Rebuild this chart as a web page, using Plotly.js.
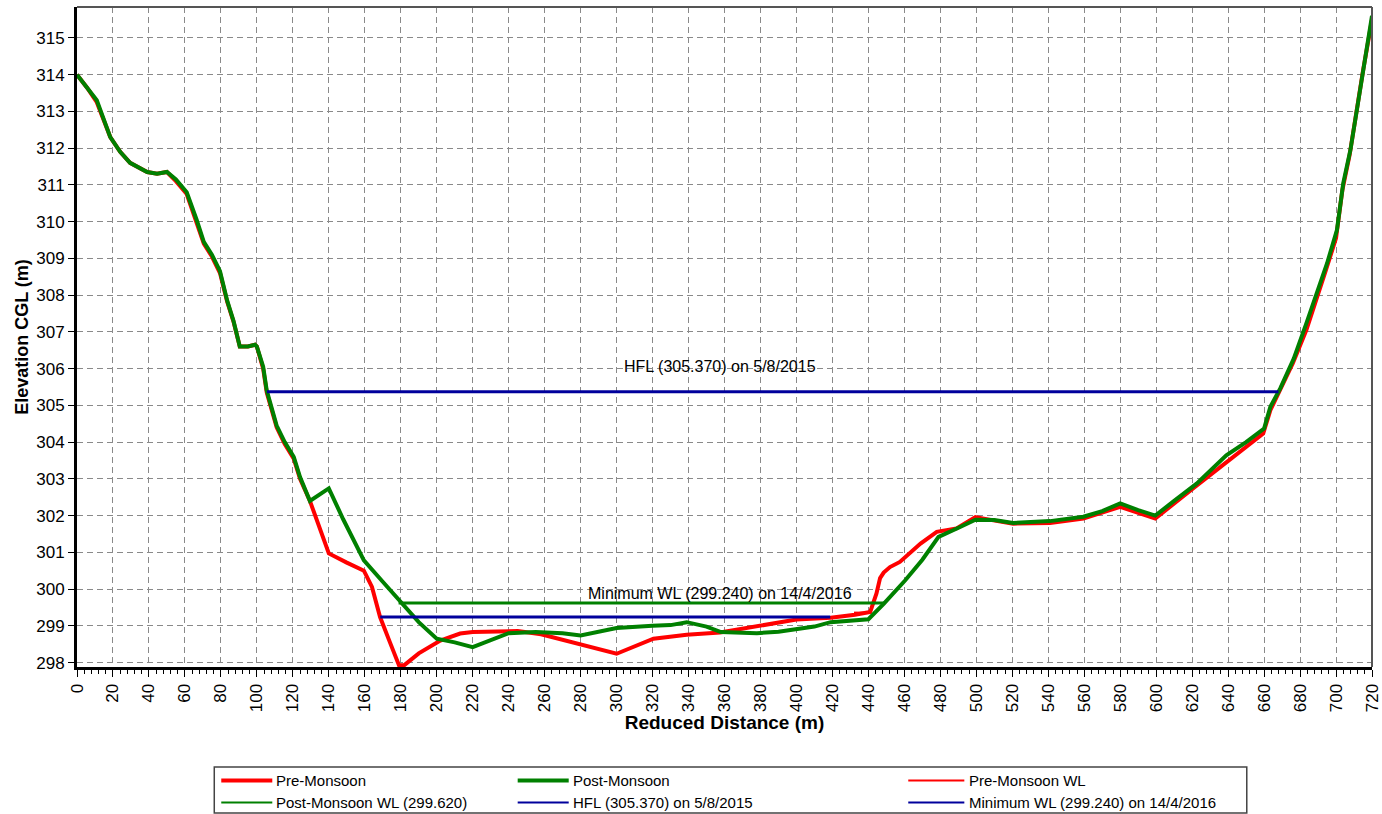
<!DOCTYPE html>
<html>
<head>
<meta charset="utf-8">
<script src="https://cdn.plot.ly/plotly-3.0.1.min.js"></script>
<style>html,body{margin:0;padding:0;background:#fff;}#chart{width:1382px;height:814px;}</style>
</head>
<body>
<div id="chart"></div>
<script>
// ---- data ----
const preX = [0,5.5,11,18.5,24,29.5,39,44.5,50,55,61,66.5,70.5,75,79.5,83.5,87,90.5,95,99,100,103.5,105.5,111,115.5,120.5,124,129.5,140,150,159.5,164,168.5,174,179,182,190,202,213,220,245,258,270,280,300,320.5,339,357.5,378,400,419,432.5,441,444.5,446.5,448.5,452,457.5,469,478,489,499.5,509.5,520.5,541,559.5,580,599.5,620.5,639,651,659.5,663.5,668,676,683.5,689,694.5,700,703.5,707.5,711,715,720];
const preY = [314.0,313.65,313.25,312.3,311.9,311.6,311.35,311.3,311.35,311.1,310.75,309.98,309.4,309.05,308.6,307.82,307.28,306.6,306.6,306.65,306.6,306.0,305.35,304.4,303.95,303.55,303.0,302.4,300.97,300.72,300.5,300.06,299.24,298.55,297.93,297.93,298.25,298.6,298.79,298.83,298.86,298.77,298.62,298.5,298.24,298.65,298.76,298.82,298.99,299.17,299.22,299.3,299.38,299.88,300.3,300.45,300.6,300.74,301.24,301.56,301.65,301.96,301.87,301.78,301.8,301.92,302.24,301.92,302.74,303.46,303.91,304.23,304.87,305.32,306.15,307.05,307.85,308.7,309.55,310.85,311.8,312.9,314.1,315.5];

const postX = [0,5.5,11,18.5,24,29.5,39,44.5,50,55,61,66.5,70.5,75,79.5,83.5,87,90.5,95,99,100,103.5,105.5,111,115.5,120.5,124,129.5,140,148,159.5,170,179,190,200,210,220,230,240,255,270,280,290,300,320,330,339,350,358,370,378,390,396.5,410,419,430,440,448.5,460.5,470,479,491,499.5,510,520.5,541,559.5,570,580,590,599.5,610,622.5,639,650,660,663.5,669,676.5,683.5,689.5,695,700.5,704,708,711.5,715.5,720];
const postY = [314.0,313.65,313.3,312.3,311.9,311.6,311.35,311.3,311.35,311.15,310.8,310.05,309.45,309.1,308.65,307.85,307.3,306.6,306.6,306.65,306.6,306.05,305.4,304.45,304.0,303.6,303.05,302.4,302.74,301.9,300.78,300.2,299.7,299.1,298.65,298.55,298.42,298.6,298.8,298.83,298.8,298.74,298.85,298.94,299.0,299.02,299.1,298.98,298.83,298.82,298.8,298.84,298.88,298.98,299.1,299.15,299.18,299.6,300.24,300.8,301.42,301.69,301.89,301.88,301.8,301.85,301.97,302.12,302.33,302.15,302.0,302.4,302.87,303.64,304.0,304.37,304.96,305.46,306.27,307.23,308.04,308.86,309.77,311.04,311.95,313.03,314.21,315.6];

const preWLX = [432, 441.5];   const preWL = 299.36;
const postWLX = [178.8, 449];  const postWL = 299.62;
const hflX = [105.6, 668];     const hfl = 305.37;
const minWLX = [168.6, 418.8]; const minWL = 299.24;

const names = ["Pre-Monsoon", "Post-Monsoon", "Pre-Monsoon WL",
               "Post-Monsoon WL (299.620)", "HFL (305.370) on 5/8/2015",
               "Minimum WL (299.240) on 14/4/2016"];
const hflLabel = "HFL (305.370) on 5/8/2015";
const minLabel = "Minimum WL (299.240) on 14/4/2016";
const labelX = 357.6;
const xTitle = "Reduced Distance (m)";
const yTitle = "Elevation CGL (m)";

// ---- styles ----
const RED = "#ff0000", GREEN = "#008000", BLUE = "#00009c";
const FONT = "Liberation Sans, Arial, sans-serif";

const traces = [
  {x: preX, y: preY, mode: "lines", name: names[0], line: {color: RED, width: 4}},
  {x: postX, y: postY, mode: "lines", name: names[1], line: {color: GREEN, width: 4}},
  {x: preWLX, y: preWLX.map(() => preWL), mode: "lines", name: names[2], line: {color: RED, width: 2}},
  {x: postWLX, y: postWLX.map(() => postWL), mode: "lines", name: names[3], line: {color: GREEN, width: 3}},
  {x: hflX, y: hflX.map(() => hfl), mode: "lines", name: names[4], line: {color: BLUE, width: 3}},
  {x: minWLX, y: minWLX.map(() => minWL), mode: "lines", name: names[5], line: {color: BLUE, width: 3}}
];

// manual legend (two rows x three columns, uneven column positions as in reference)
const legCols = [[0.1114, 0.1508, 0.1524], [0.3403, 0.3797, 0.3813], [0.6419, 0.6852, 0.6876]];
const legRows = [-0.1720, -0.2053];
const legOrder = [[0, 0], [1, 0], [2, 0], [3, 1], [4, 1], [5, 1]]; // [traceIndex, row]
const shapes = [
  {type: "line", xref: "paper", yref: "paper", x0: 0, x1: 1, y0: 1, y1: 1, line: {color: "#555", width: 2}},
  {type: "line", xref: "paper", yref: "paper", x0: 1, x1: 1, y0: 0, y1: 1, line: {color: "#555", width: 2}},
  {type: "rect", xref: "paper", yref: "paper", x0: 0.1060, x1: 0.9033, y0: -0.2212, y1: -0.1515,
   line: {color: "#444", width: 1.5}}
];
const annotations = [
  {x: labelX, y: 306.05, xref: "x", yref: "y", text: hflLabel, showarrow: false,
   font: {family: FONT, size: 16, color: "#000"}, xanchor: "center", yanchor: "middle"},
  {x: labelX, y: 299.88, xref: "x", yref: "y", text: minLabel, showarrow: false,
   font: {family: FONT, size: 16, color: "#000"}, xanchor: "center", yanchor: "middle"}
];
legOrder.forEach(([ti, row], k) => {
  const col = legCols[k % 3];
  const y = legRows[row];
  const t = traces[ti];
  shapes.push({type: "line", xref: "paper", yref: "paper", x0: col[0], x1: col[1], y0: y, y1: y,
               line: {color: t.line.color, width: t.line.width >= 4 ? 4 : 2}});
  annotations.push({xref: "paper", yref: "paper", x: col[2], y: y, text: t.name, showarrow: false,
                    xanchor: "left", yanchor: "middle", font: {family: FONT, size: 15, color: "#000"}});
});

const gridStyle = {showgrid: true, gridcolor: "#8a8a8a", gridwidth: 1, griddash: "6px,4px"};

const layout = {
  width: 1382, height: 814,
  margin: {l: 77, r: 10, t: 7, b: 147},
  paper_bgcolor: "#fff", plot_bgcolor: "#fff",
  showlegend: false,
  font: {family: FONT, color: "#000"},
  xaxis: Object.assign({
    range: [0, 720], tick0: 0, dtick: 20, tickangle: -90,
    ticks: "outside", ticklen: 7, tickwidth: 1, tickcolor: "#000",
    minor: {dtick: 4, ticks: "outside", ticklen: 4, tickcolor: "#000", showgrid: false},
    showline: true, linewidth: 3, linecolor: "#000", zeroline: false,
    tickfont: {family: FONT, size: 17, color: "#000"},
    title: {text: "<b>" + xTitle + "</b>", font: {family: FONT, size: 19, color: "#000"}, standoff: 5}
  }, gridStyle),
  yaxis: Object.assign({
    range: [297.88, 315.84], tick0: 298, dtick: 1,
    ticks: "outside", ticklen: 6, tickwidth: 1, tickcolor: "#000",
    showline: true, linewidth: 3, linecolor: "#000", zeroline: false,
    tickfont: {family: FONT, size: 17, color: "#000"},
    title: {text: "<b>" + yTitle + "</b>", font: {family: FONT, size: 18, color: "#000"}, standoff: 3}
  }, gridStyle),
  shapes: shapes,
  annotations: annotations
};

Plotly.newPlot("chart", traces, layout, {staticPlot: true, displayModeBar: false});
</script>
</body>
</html>
